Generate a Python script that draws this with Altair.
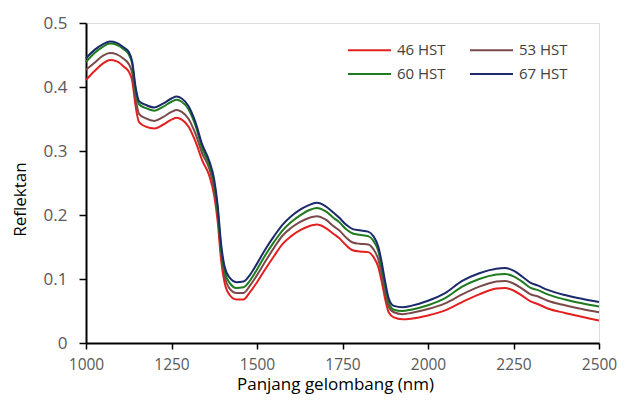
import altair as alt
import pandas as pd

wavelength = [1000, 1025, 1050, 1070, 1090, 1110, 1125, 1135, 1145, 1155, 1175, 1200,
              1225, 1250, 1265, 1280, 1300, 1320, 1340, 1360, 1375, 1385, 1395, 1405,
              1420, 1440, 1460, 1480, 1500, 1525, 1550, 1575, 1600, 1625, 1650, 1675,
              1700, 1725, 1740, 1760, 1780, 1800, 1825, 1840, 1855, 1865, 1875, 1885,
              1900, 1925, 1950, 2000, 2050, 2100, 2150, 2200, 2225, 2250, 2275, 2300,
              2320, 2350, 2400, 2450, 2500]

hst46 = [0.411, 0.425, 0.437, 0.442, 0.440, 0.432, 0.424, 0.410, 0.370, 0.345, 0.338, 0.335,
         0.341, 0.349, 0.352, 0.349, 0.338, 0.315, 0.285, 0.262, 0.230, 0.190, 0.130, 0.095,
         0.075, 0.068, 0.068, 0.080, 0.095, 0.116, 0.136, 0.155, 0.167, 0.176, 0.182, 0.185,
         0.180, 0.170, 0.164, 0.153, 0.145, 0.143, 0.142, 0.135, 0.118, 0.095, 0.068, 0.048,
         0.040, 0.037, 0.038, 0.043, 0.051, 0.064, 0.076, 0.085, 0.086, 0.082, 0.074, 0.065,
         0.061, 0.054, 0.047, 0.041, 0.035]

hst53 = [0.427, 0.438, 0.449, 0.453, 0.451, 0.444, 0.436, 0.422, 0.383, 0.358, 0.351, 0.347,
         0.353, 0.361, 0.364, 0.361, 0.350, 0.327, 0.296, 0.273, 0.241, 0.201, 0.141, 0.106,
         0.085, 0.078, 0.078, 0.090, 0.106, 0.128, 0.149, 0.168, 0.180, 0.189, 0.195, 0.198,
         0.193, 0.182, 0.176, 0.165, 0.157, 0.155, 0.154, 0.147, 0.130, 0.106, 0.078, 0.057,
         0.048, 0.045, 0.047, 0.053, 0.062, 0.076, 0.088, 0.096, 0.097, 0.093, 0.085, 0.076,
         0.073, 0.066, 0.059, 0.053, 0.048]

hst60 = [0.439, 0.453, 0.463, 0.468, 0.466, 0.459, 0.451, 0.436, 0.395, 0.373, 0.367, 0.363,
         0.369, 0.377, 0.380, 0.377, 0.365, 0.340, 0.304, 0.279, 0.249, 0.208, 0.148, 0.112,
         0.094, 0.086, 0.087, 0.098, 0.115, 0.138, 0.158, 0.176, 0.189, 0.199, 0.207, 0.211,
         0.206, 0.195, 0.189, 0.178, 0.171, 0.169, 0.167, 0.160, 0.143, 0.118, 0.088, 0.064,
         0.052, 0.050, 0.052, 0.059, 0.070, 0.088, 0.100, 0.107, 0.108, 0.104, 0.096, 0.086,
         0.083, 0.076, 0.068, 0.062, 0.057]

hst67 = [0.445, 0.458, 0.467, 0.471, 0.469, 0.462, 0.455, 0.440, 0.400, 0.378, 0.372, 0.368,
         0.374, 0.382, 0.385, 0.382, 0.370, 0.345, 0.310, 0.285, 0.255, 0.215, 0.155, 0.120,
         0.102, 0.095, 0.096, 0.107, 0.124, 0.147, 0.167, 0.185, 0.198, 0.208, 0.215, 0.219,
         0.214, 0.203, 0.196, 0.185, 0.178, 0.176, 0.174, 0.167, 0.150, 0.125, 0.095, 0.070,
         0.058, 0.056, 0.058, 0.066, 0.078, 0.097, 0.109, 0.116, 0.117, 0.113, 0.104, 0.094,
         0.090, 0.083, 0.075, 0.069, 0.064]

series_names = ["46 HST", "53 HST", "60 HST", "67 HST"]
series_colors = ["#e3201f", "#7a4a4a", "#1e7b1e", "#1b2a6b"]
# legend is filled column by column: order so rows read 46|53, 60|67
legend_order = ["46 HST", "60 HST", "53 HST", "67 HST"]
legend_colors = ["#e3201f", "#1e7b1e", "#7a4a4a", "#1b2a6b"]
x_ticks = [1000, 1250, 1500, 1750, 2000, 2250, 2500]
y_ticks = [0, 0.1, 0.2, 0.3, 0.4, 0.5]

rows = []
for name, vals in zip(series_names, [hst46, hst53, hst60, hst67]):
    for w, v in zip(wavelength, vals):
        rows.append({"wl": w, "r": v, "s": name})
df = pd.DataFrame(rows)

font = "Open Sans"

chart = alt.Chart(df).mark_line(strokeWidth=2, interpolate="monotone").encode(
    x=alt.X("wl:Q", scale=alt.Scale(domain=[1000, 2500], nice=False),
            axis=alt.Axis(title="Panjang gelombang (nm)", values=x_ticks, format="d",
                          grid=False, domainColor="black", domainWidth=2,
                          tickColor="black", tickSize=6, tickWidth=1.5,
                          labelFlush=False, labelOverlap=False,
                          labelFont=font, labelFontSize=15.5, labelColor="#595959",
                          labelPadding=8, titleFont=font, titleFontSize=17,
                          titleFontWeight="normal", titleColor="black", titlePadding=4,
                          titleX=249)),
    y=alt.Y("r:Q", scale=alt.Scale(domain=[0, 0.5], nice=False),
            axis=alt.Axis(title="Reflektan", values=y_ticks, format="~g",
                          grid=False, domainColor="black", domainWidth=2,
                          tickColor="black", tickSize=7, tickWidth=1.5,
                          labelFont=font, labelFontSize=17, labelColor="#595959",
                          labelPadding=12, titleFont=font, titleFontSize=17,
                          titleFontWeight="normal", titleColor="black",
                          titleX=-57, titleY=176)),
    color=alt.Color("s:N", sort=legend_order,
                    scale=alt.Scale(domain=legend_order, range=legend_colors),
                    legend=alt.Legend(title=None, orient="none", legendX=276, legendY=19.5,
                                      columns=2, symbolType="M-8,0H8", symbolSize=28.9,
                                      symbolStrokeWidth=2, labelFont=font, labelFontSize=15,
                                      labelColor="#404040", columnPadding=19, rowPadding=8,
                                      labelOffset=20)),
).properties(
    width=513, height=320,
    autosize=alt.AutoSizeParams(type="none"),
    padding={"left": 78, "top": 15, "right": 18, "bottom": 52},
).configure_view(stroke="black", strokeWidth=1.5).configure(background="white")

chart.save("out.html", embed_options={"renderer": "svg", "actions": False})
